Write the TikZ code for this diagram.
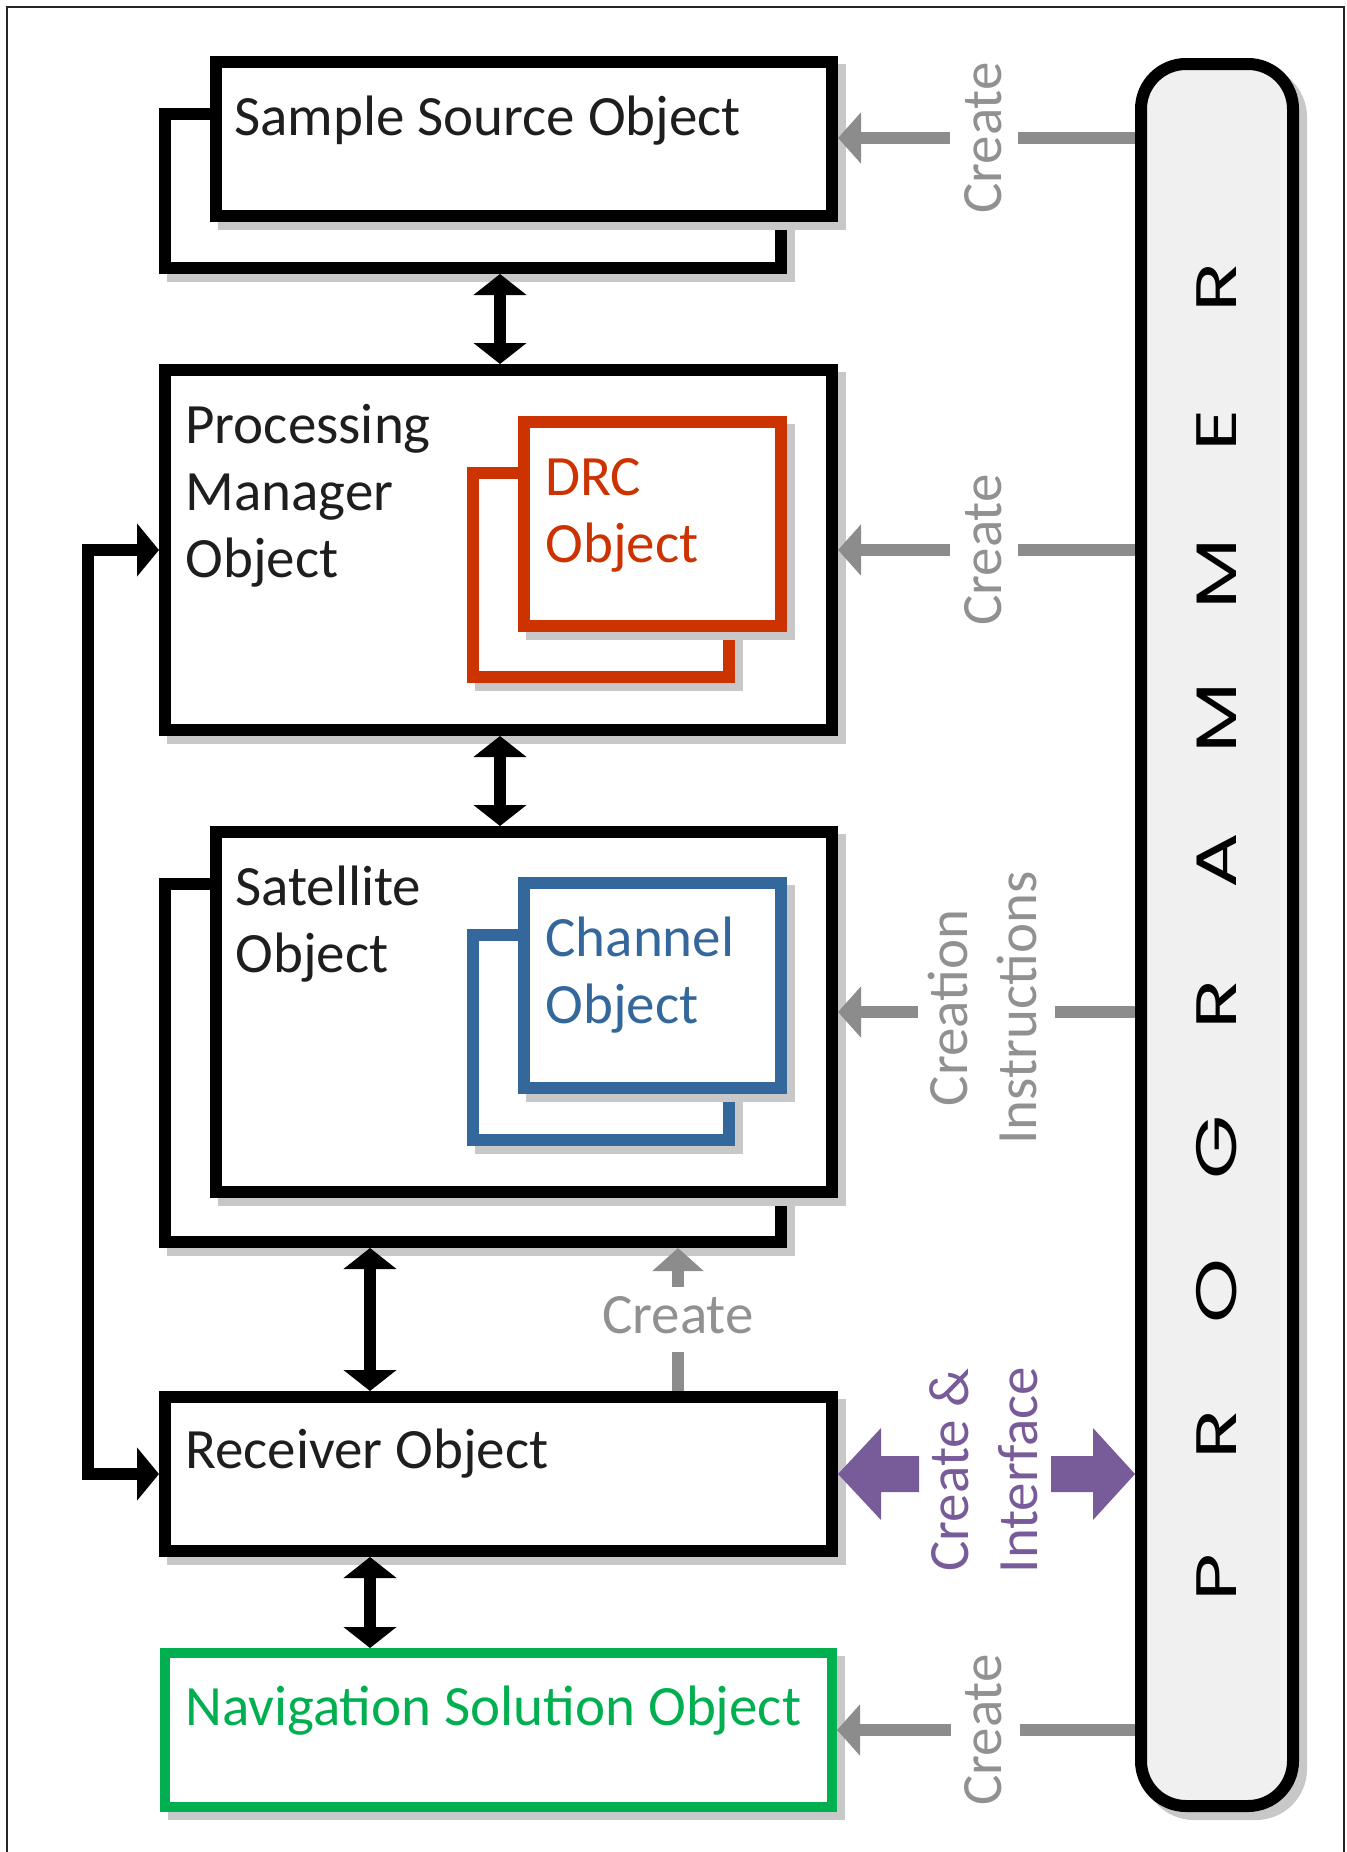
\documentclass[tikz,border=0pt]{standalone}
\usepackage{fontspec}
\setmainfont{Carlito}
\newfontfamily\progfont{Poppins}
\usepackage{graphicx}
\usetikzlibrary{arrows.meta}
\definecolor{gc}{RGB}{140,140,140}
\definecolor{gtext}{RGB}{145,145,145}
\definecolor{shc}{RGB}{200,200,200}
\definecolor{redc}{RGB}{204,51,0}
\definecolor{bluec}{RGB}{52,103,155}
\definecolor{greenc}{RGB}{0,176,80}
\definecolor{purc}{RGB}{120,92,153}
\definecolor{progfill}{RGB}{240,240,240}
\definecolor{txtc}{RGB}{30,30,30}
\newcommand\progltr[1]{\makebox[71.7pt]{\scalebox{1.45}[1]{#1}}}
\begin{document}
\begin{tikzpicture}[x=0.5pt,y=-0.5pt,
  shadowed/.style={preaction={draw=shc,fill=shc,transform canvas={shift={(8,8)}}}},
  box/.style={shape=rectangle,draw=black,line width=6pt,fill=white,inner sep=0pt,shadowed},
  lbl/.style={font=\fontsize{28.5}{33.5}\selectfont,text=txtc,inner sep=0pt},
  glbl/.style={font=\fontsize{28.5}{34.5}\selectfont,text=gtext,inner sep=0pt,rotate=90,align=center},
  gline/.style={draw=gc,line width=6pt},
  garrow/.style={gline,-{Triangle[length=11.5pt,width=25pt]}},
  dbl/.style={draw=black,line width=6pt,{Triangle[length=10.5pt,width=26pt]}-{Triangle[length=10.5pt,width=26pt]}},
]
\useasboundingbox (0,0) rectangle (1346,1852);
% frame
\draw[line width=1.2pt,black!85] (7,1860) -- (7,7) -- (1344,7) -- (1344,1860);

% boxes
\node[box,minimum width=308pt,minimum height=77pt] (ssB) at (473,191) {};
\node[box,minimum width=308pt,minimum height=77pt] (ssF) at (524,139) {};
\node[box,minimum width=333.5pt,minimum height=180pt] (pm) at (498.5,550) {};
\node[box,draw=redc,minimum width=128pt,minimum height=102pt] (drcB) at (601,575) {};
\node[box,draw=redc,minimum width=128.5pt,minimum height=102pt] (drcF) at (652.5,524) {};
\node[box,minimum width=308pt,minimum height=179pt] (satB) at (473,1063) {};
\node[box,minimum width=308pt,minimum height=180pt] (satF) at (524,1012) {};
\node[box,draw=bluec,minimum width=128pt,minimum height=102.5pt] (chB) at (601,1037.5) {};
\node[box,draw=bluec,minimum width=128.5pt,minimum height=102.5pt] (chF) at (652.5,985.5) {};
\node[box,minimum width=333.5pt,minimum height=77pt] (rcv) at (498.5,1474) {};
\node[box,draw=greenc,line width=5pt,minimum width=333.5pt,minimum height=77pt] (nav) at (498.5,1730) {};
\node[box,fill=progfill,rounded corners=22.5pt,minimum width=76pt,minimum height=871pt] (prog) at (1217,935) {};

% labels (multi-line nodes: base = baseline of last line)
\node[lbl,anchor=base west] (tss) at (234,135) {Sample Source Object};
\node[lbl,anchor=base west,align=left] (tpm) at (185,577) {Processing\\Manager\\Object};
\node[lbl,anchor=base west,align=left,text=redc] (tdrc) at (545,562) {DRC\\Object};
\node[lbl,anchor=base west,align=left] (tsat) at (235,972) {Satellite\\Object};
\node[lbl,anchor=base west,align=left,text=bluec] (tch) at (545,1023) {Channel\\Object};
\node[lbl,anchor=base west] (trcv) at (185,1468) {Receiver Object};
\node[lbl,anchor=base west,text=greenc] (tnav) at (185,1725) {Navigation Solution Object};
\node[rotate=90,inner sep=0pt,font=\progfont\fontsize{28.5}{30}\selectfont] (tprog) at (1217,932.5)
  {\progltr{P}\progltr{R}\progltr{O}\progltr{G}\progltr{R}\progltr{A}\progltr{M}\progltr{M}\progltr{E}\progltr{R}};

% gray create labels
\node[glbl] (c1) at (983,138) {Create};
\node[glbl] (c2) at (983,550) {Create};
\node[glbl] (c3) at (982,1008) {Creation\\Instructions};
\node[glbl] (c4) at (983,1730) {Create};
\node[font=\fontsize{28.5}{33.5}\selectfont,text=gtext,inner sep=0pt,anchor=base] (c5) at (678,1333) {Create};
\node[glbl,text=purc] (ci) at (984,1470) {Create \&\\Interface};

% gap coordinates
\coordinate (s1a) at (950,138);  \coordinate (s1b) at (1018,138);
\coordinate (s2a) at (950,550);  \coordinate (s2b) at (1018,550);
\coordinate (s3a) at (918,1012); \coordinate (s3b) at (1055,1012);
\coordinate (s4a) at (951,1730); \coordinate (s4b) at (1020,1730);
\coordinate (g1) at (678,1352);  \coordinate (g2) at (678,1287);
\coordinate (xA) at (500,0); \coordinate (xB) at (370,0); \coordinate (xL) at (88,0);

% gray create arrows
\draw[gline] (prog.west |- s1b) -- (s1b);
\draw[garrow] (s1a) -- (ssF.east |- s1a);
\draw[gline] (prog.west |- s2b) -- (s2b);
\draw[garrow] (s2a) -- (pm.east |- s2a);
\draw[gline] (prog.west |- s3b) -- (s3b);
\draw[garrow] (s3a) -- (satF.east |- s3a);
\draw[gline] (prog.west |- s4b) -- (s4b);
\draw[garrow] (s4a) -- (nav.east |- s4a);
\draw[gline] (rcv.north -| g1) -- (g1);
\draw[garrow] (g2) -- (satB.south -| g2);

% black double arrows
\draw[dbl] (ssB.south -| xA) -- (pm.north -| xA);
\draw[dbl] (pm.south -| xA) -- (satF.north -| xA);
\draw[dbl] (satB.south -| xB) -- (rcv.north -| xB);
\draw[dbl] (rcv.south -| xB) -- (nav.north -| xB);
\draw[dbl,line join=miter,{Triangle[length=11pt,width=26pt]}-{Triangle[length=11pt,width=26pt]}]
  (pm.west) -- (pm.west -| xL) -- (rcv.west -| xL) -- (rcv.west);

% purple block arrows
\fill[purc] (rcv.east) -- ++(43,-46) -- ++(0,28) -- ++(38,0) -- ++(0,36) -- ++(-38,0) -- ++(0,28) -- cycle;
\fill[purc] (prog.west |- rcv.east) -- ++(-42,-46) -- ++(0,28) -- ++(-42,0) -- ++(0,36) -- ++(42,0) -- ++(0,28) -- cycle;
\end{tikzpicture}
\end{document}
